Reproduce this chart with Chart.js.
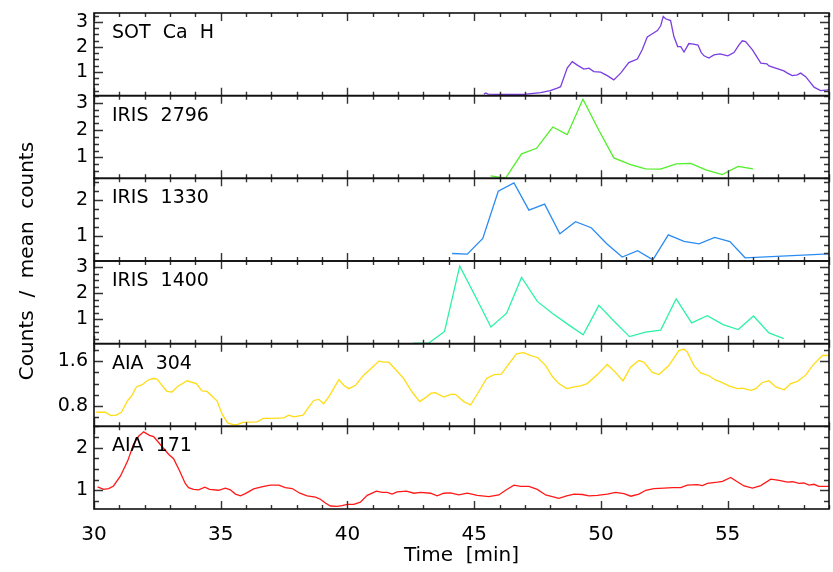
<!DOCTYPE html>
<html>
<head>
<meta charset="utf-8">
<script src="https://cdn.jsdelivr.net/npm/chart.js@4"></script>
<style>
  html, body { margin: 0; padding: 0; background: #fff; }
</style>
</head>
<body>
<canvas id="lc" width="833" height="572"></canvas>
<script>
// time axis, minutes
const xTicks = [30, 35, 40, 45, 50, 55];

// SOT Ca II H
const sotT = [45.38, 45.45, 45.55, 46.0, 46.96, 47.62, 48.0, 48.28, 48.41, 48.67, 48.87, 49.1, 49.33, 49.53, 49.72,
  49.99, 50.25, 50.51, 50.78, 51.1, 51.44, 51.63, 51.83, 52.03, 52.23, 52.36, 52.46, 52.55, 52.75, 52.88, 53.03,
  53.15, 53.28, 53.47, 53.65, 53.83, 53.96, 54.07, 54.26, 54.46, 54.7, 55.01, 55.25, 55.45, 55.58, 55.71, 55.98,
  56.31, 56.55, 56.63, 57.22, 57.36, 57.55, 57.75, 57.88, 58.08, 58.41, 58.67, 58.94, 59.0];
const sotV = [0.11, 0.16, 0.11, 0.10, 0.10, 0.17, 0.25, 0.35, 0.41, 1.15, 1.41, 1.25, 1.11, 1.15, 1.01,
  0.99, 0.85, 0.68, 0.95, 1.37, 1.51, 1.88, 2.39, 2.52, 2.65, 2.84, 3.21, 3.12, 3.05, 2.41, 2.01,
  2.01, 1.79, 2.13, 2.11, 2.07, 1.77, 1.64, 1.55, 1.68, 1.72, 1.64, 1.77, 2.08, 2.24, 2.21, 1.88,
  1.35, 1.32, 1.24, 1.04, 0.95, 0.85, 0.88, 0.95, 0.81, 0.39, 0.25, 0.28, 0.30];
const sotTicks = [1, 2, 3];

// IRIS SJI 2796
const i2796T = [45.65, 46.24, 46.87, 47.46, 48.1, 48.67, 49.29, 49.92, 50.51, 51.17, 51.76, 52.35, 52.97, 53.54,
  54.17, 54.79, 55.41, 56.0];
const i2796V = [0.32, 0.24, 1.13, 1.33, 2.11, 1.83, 3.13, 1.99, 0.98, 0.73, 0.58, 0.57, 0.76, 0.78,
  0.53, 0.37, 0.67, 0.58];
const i2796Ticks = [1, 2, 3];

// IRIS SJI 1330
const i1330T = [44.13, 44.73, 45.34, 45.95, 46.57, 47.16, 47.78, 48.38, 49.0, 49.62, 50.22, 50.84, 51.45, 52.05,
  52.66, 53.28, 53.87, 54.49, 55.09, 55.69, 59.0];
const i1330V = [0.50, 0.48, 0.92, 2.24, 2.47, 1.71, 1.88, 1.05, 1.39, 1.22, 0.78, 0.40, 0.58, 0.32,
  1.02, 0.84, 0.77, 0.95, 0.83, 0.38, 0.49];
const i1330Ticks = [1, 2];

// IRIS SJI 1400
const i1400T = [42.6, 43.21, 43.83, 44.43, 45.05, 45.66, 46.28, 46.87, 47.49, 48.08, 48.7, 49.3, 49.92, 50.51,
  51.13, 51.76, 52.36, 52.97, 53.58, 54.2, 54.82, 55.42, 56.02, 56.63, 57.22];
const i1400V = [0.09, 0.09, 0.54, 3.04, 1.88, 0.71, 1.24, 2.61, 1.69, 1.24, 0.81, 0.41, 1.54, 0.94,
  0.34, 0.51, 0.59, 1.79, 0.87, 1.14, 0.80, 0.61, 1.13, 0.48, 0.26];
const i1400Ticks = [1, 2, 3];

// AIA 304
const a304T = [30.09, 30.45, 30.67, 30.88, 31.08, 31.33, 31.5, 31.67, 31.9, 32.12, 32.33, 32.49, 32.68, 32.88,
  33.08, 33.3, 33.67, 34.04, 34.26, 34.46, 34.86, 35.05, 35.27, 35.49, 35.65, 35.88, 36.44, 36.67, 37.03,
  37.49, 37.68, 37.88, 38.25, 38.47, 38.67, 38.87, 39.06, 39.3, 39.66, 39.85, 40.05, 40.32, 40.64, 40.91,
  41.24, 41.43, 41.63, 41.9, 42.22, 42.55, 42.85, 43.08, 43.3, 43.47, 43.8, 44.07, 44.26, 44.59, 44.86,
  45.12, 45.49, 45.78, 46.07, 46.37, 46.67, 46.94, 47.22, 47.51, 47.82, 48.08, 48.34, 48.65, 48.96, 49.2,
  49.46, 49.86, 50.25, 50.51, 50.87, 51.17, 51.5, 51.7, 52.03, 52.29, 52.68, 53.08, 53.28, 53.41, 53.67,
  53.94, 54.26, 54.53, 54.73, 55.05, 55.38, 55.58, 55.91, 56.11, 56.37, 56.63, 56.9, 57.23, 57.49, 57.75,
  58.08, 58.35, 58.74, 59.0];
const a304V = [0.69, 0.69, 0.63, 0.64, 0.69, 0.90, 0.99, 1.14, 1.18, 1.26, 1.29, 1.28, 1.17, 1.06,
  1.05, 1.15, 1.25, 1.20, 1.07, 1.06, 0.89, 0.66, 0.50, 0.47, 0.47, 0.51, 0.52, 0.58, 0.58,
  0.59, 0.64, 0.61, 0.64, 0.78, 0.90, 0.92, 0.84, 0.99, 1.27, 1.17, 1.11, 1.17, 1.35, 1.46,
  1.60, 1.58, 1.58, 1.45, 1.29, 1.05, 0.88, 0.95, 1.03, 1.04, 0.96, 1.01, 1.01, 0.88, 0.82,
  1.01, 1.29, 1.36, 1.37, 1.55, 1.73, 1.75, 1.70, 1.66, 1.52, 1.33, 1.20, 1.11, 1.14, 1.16,
  1.20, 1.36, 1.54, 1.43, 1.25, 1.49, 1.61, 1.58, 1.40, 1.36, 1.52, 1.79, 1.81, 1.76, 1.52,
  1.39, 1.34, 1.26, 1.23, 1.16, 1.11, 1.12, 1.08, 1.11, 1.22, 1.25, 1.14, 1.09, 1.20, 1.24,
  1.35, 1.52, 1.70, 1.70];
const a304Ticks = [0.8, 1.6];

// AIA 171
const a171T = [30.14, 30.38, 30.58, 30.77, 31.04, 31.33, 31.56, 31.76, 31.96, 32.19, 32.35, 32.55, 32.75, 32.95,
  33.14, 33.38, 33.6, 33.73, 33.93, 34.13, 34.37, 34.56, 34.92, 35.18, 35.38, 35.58, 35.78, 35.97, 36.3,
  36.7, 36.96, 37.29, 37.55, 37.82, 38.12, 38.41, 38.74, 38.93, 39.13, 39.33, 39.59, 39.79, 39.99, 40.25,
  40.51, 40.78, 41.14, 41.37, 41.57, 41.76, 41.96, 42.33, 42.62, 42.88, 43.28, 43.54, 43.8, 44.07, 44.39,
  44.73, 45.12, 45.58, 45.97, 46.24, 46.57, 46.83, 47.16, 47.49, 47.82, 48.08, 48.34, 48.65, 48.94, 49.27,
  49.53, 49.86, 50.25, 50.58, 50.91, 51.18, 51.5, 51.77, 52.09, 52.49, 52.82, 53.15, 53.41, 53.81, 54.01,
  54.2, 54.6, 54.8, 55.12, 55.38, 55.65, 55.98, 56.31, 56.7, 57.03, 57.36, 57.56, 57.82, 58.01, 58.21,
  58.41, 58.6, 59.0];
const a171V = [1.08, 1.02, 1.04, 1.10, 1.33, 1.69, 2.08, 2.27, 2.37, 2.29, 2.26, 2.12, 1.98, 1.84,
  1.74, 1.45, 1.16, 1.06, 1.02, 1.01, 1.07, 1.02, 1.00, 1.05, 1.01, 0.91, 0.87, 0.92, 1.03,
  1.09, 1.12, 1.12, 1.06, 1.04, 0.93, 0.87, 0.84, 0.79, 0.70, 0.63, 0.62, 0.64, 0.67, 0.67,
  0.72, 0.88, 0.98, 0.95, 0.95, 0.91, 0.96, 0.98, 0.93, 0.95, 0.93, 0.87, 0.93, 0.94, 0.89,
  0.93, 0.88, 0.85, 0.89, 1.00, 1.12, 1.09, 1.09, 1.02, 0.89, 0.85, 0.81, 0.87, 0.91, 0.90,
  0.87, 0.88, 0.91, 0.95, 0.92, 0.86, 0.91, 1.00, 1.04, 1.05, 1.06, 1.06, 1.12, 1.13, 1.11,
  1.16, 1.19, 1.21, 1.30, 1.20, 1.10, 1.05, 1.11, 1.26, 1.23, 1.19, 1.20, 1.16, 1.17, 1.12,
  1.14, 1.09, 1.09];
const a171Ticks = [1, 2];

const FONT = '"DejaVu Sans", sans-serif';

// panels from top to bottom
const panels = [
  { id: 'ySot',  label: 'SOT  Ca  H', t: sotT,   v: sotV,   ticks: sotTicks,   min: 0.05, max: 3.35, minor: 0.25, color: '#7a3ee0' },
  { id: 'y2796', label: 'IRIS  2796', t: i2796T, v: i2796V, ticks: i2796Ticks, min: 0.23, max: 3.26, minor: 0.25, color: '#50f028' },
  { id: 'y1330', label: 'IRIS  1330', t: i1330T, v: i1330V, ticks: i1330Ticks, min: 0.29, max: 2.6,  minor: 0.25, color: '#2a8cf2' },
  { id: 'y1400', label: 'IRIS  1400', t: i1400T, v: i1400V, ticks: i1400Ticks, min: 0.07, max: 3.24, minor: 0.25, color: '#2cf2a6' },
  { id: 'y304',  label: 'AIA  304',   t: a304T,  v: a304V,  ticks: a304Ticks,  min: 0.44, max: 1.91, minor: 0.2,  color: '#ffdc14' },
  { id: 'y171',  label: 'AIA  171',   t: a171T,  v: a171V,  ticks: a171Ticks,  min: 0.56, max: 2.5,  minor: 0.25, color: '#ff1818' }
];

const scales = {
  x: {
    type: 'linear', min: 30, max: 59,
    grid: { display: false, drawTicks: false },
    border: { display: false },
    afterBuildTicks: s => { s.ticks = xTicks.map(v => ({ value: v })); },
    afterFit: s => { s.height = 63; },
    ticks: { color: '#000', font: { family: FONT, size: 20 }, padding: 14, maxRotation: 0, autoSkip: false }
  }
};
// stacked y axes: the last one added is laid out on top
panels.slice().reverse().forEach(p => {
  scales[p.id] = {
    type: 'linear', position: 'left', stack: 'panels', stackWeight: 1,
    min: p.min, max: p.max,
    grid: { display: false, drawTicks: false },
    border: { display: false },
    afterBuildTicks: s => { s.ticks = p.ticks.map(v => ({ value: v })); },
    afterFit: s => { s.width = 94; s.paddingTop = 0; s.paddingBottom = 0; },
    ticks: { color: '#000', font: { family: FONT, size: 19 }, padding: 6, autoSkip: false }
  };
});

// panel frames, inward ticks on all sides, panel names and axis titles
const frames = {
  id: 'frames',
  afterDraw(chart) {
    const { ctx, chartArea: a, scales: sc } = chart;
    const xs = sc.x;
    ctx.save();
    panels.forEach(p => {
      const ys = sc[p.id];
      const top = ys.top, bot = ys.bottom;
      ctx.strokeStyle = '#333';
      ctx.lineWidth = 1.4;
      ctx.beginPath();
      for (let m = 30; m <= 59; m++) {
        const px = Math.round(xs.getPixelForValue(m)) + 0.5;
        const len = m % 5 === 0 ? 8 : 4;
        ctx.moveTo(px, top); ctx.lineTo(px, top + len);
        ctx.moveTo(px, bot); ctx.lineTo(px, bot - len);
      }
      for (let k = Math.ceil(p.min / p.minor - 1e-9); k * p.minor <= p.max + 1e-9; k++) {
        const v = k * p.minor;
        const py = Math.round(ys.getPixelForValue(v)) + 0.5;
        const len = p.ticks.some(t => Math.abs(t - v) < 1e-6) ? 9 : 5;
        ctx.moveTo(a.left, py); ctx.lineTo(a.left + len, py);
        ctx.moveTo(a.right, py); ctx.lineTo(a.right - len, py);
      }
      ctx.stroke();
      ctx.strokeStyle = '#111';
      ctx.lineWidth = 1.6;
      ctx.strokeRect(a.left, top, a.right - a.left, bot - top);

      ctx.fillStyle = '#000';
      ctx.font = '19px ' + FONT;
      ctx.textAlign = 'left';
      ctx.textBaseline = 'alphabetic';
      ctx.fillText(p.label, a.left + 18, top + 25);
    });

    ctx.font = '20px ' + FONT;
    ctx.textAlign = 'center';
    ctx.textBaseline = 'middle';
    ctx.fillText('Time  [min]', (a.left + a.right) / 2, 556);
    ctx.translate(28, (a.top + a.bottom) / 2);
    ctx.rotate(-Math.PI / 2);
    ctx.fillText('Counts  /  mean  counts', 0, 0);
    ctx.restore();
  }
};

new Chart(document.getElementById('lc'), {
  type: 'line',
  data: {
    datasets: panels.map(p => ({
      label: p.label,
      data: p.t.map((t, i) => ({ x: t, y: p.v[i] })),
      yAxisID: p.id,
      borderColor: p.color,
      borderWidth: 1.3,
      pointRadius: 0,
      tension: 0,
      fill: false
    }))
  },
  options: {
    responsive: false,
    animation: false,
    layout: { padding: { left: 0, right: 4, top: 13, bottom: 0 } },
    plugins: { legend: { display: false }, tooltip: { enabled: false } },
    scales: scales
  },
  plugins: [frames]
});
</script>
</body>
</html>
